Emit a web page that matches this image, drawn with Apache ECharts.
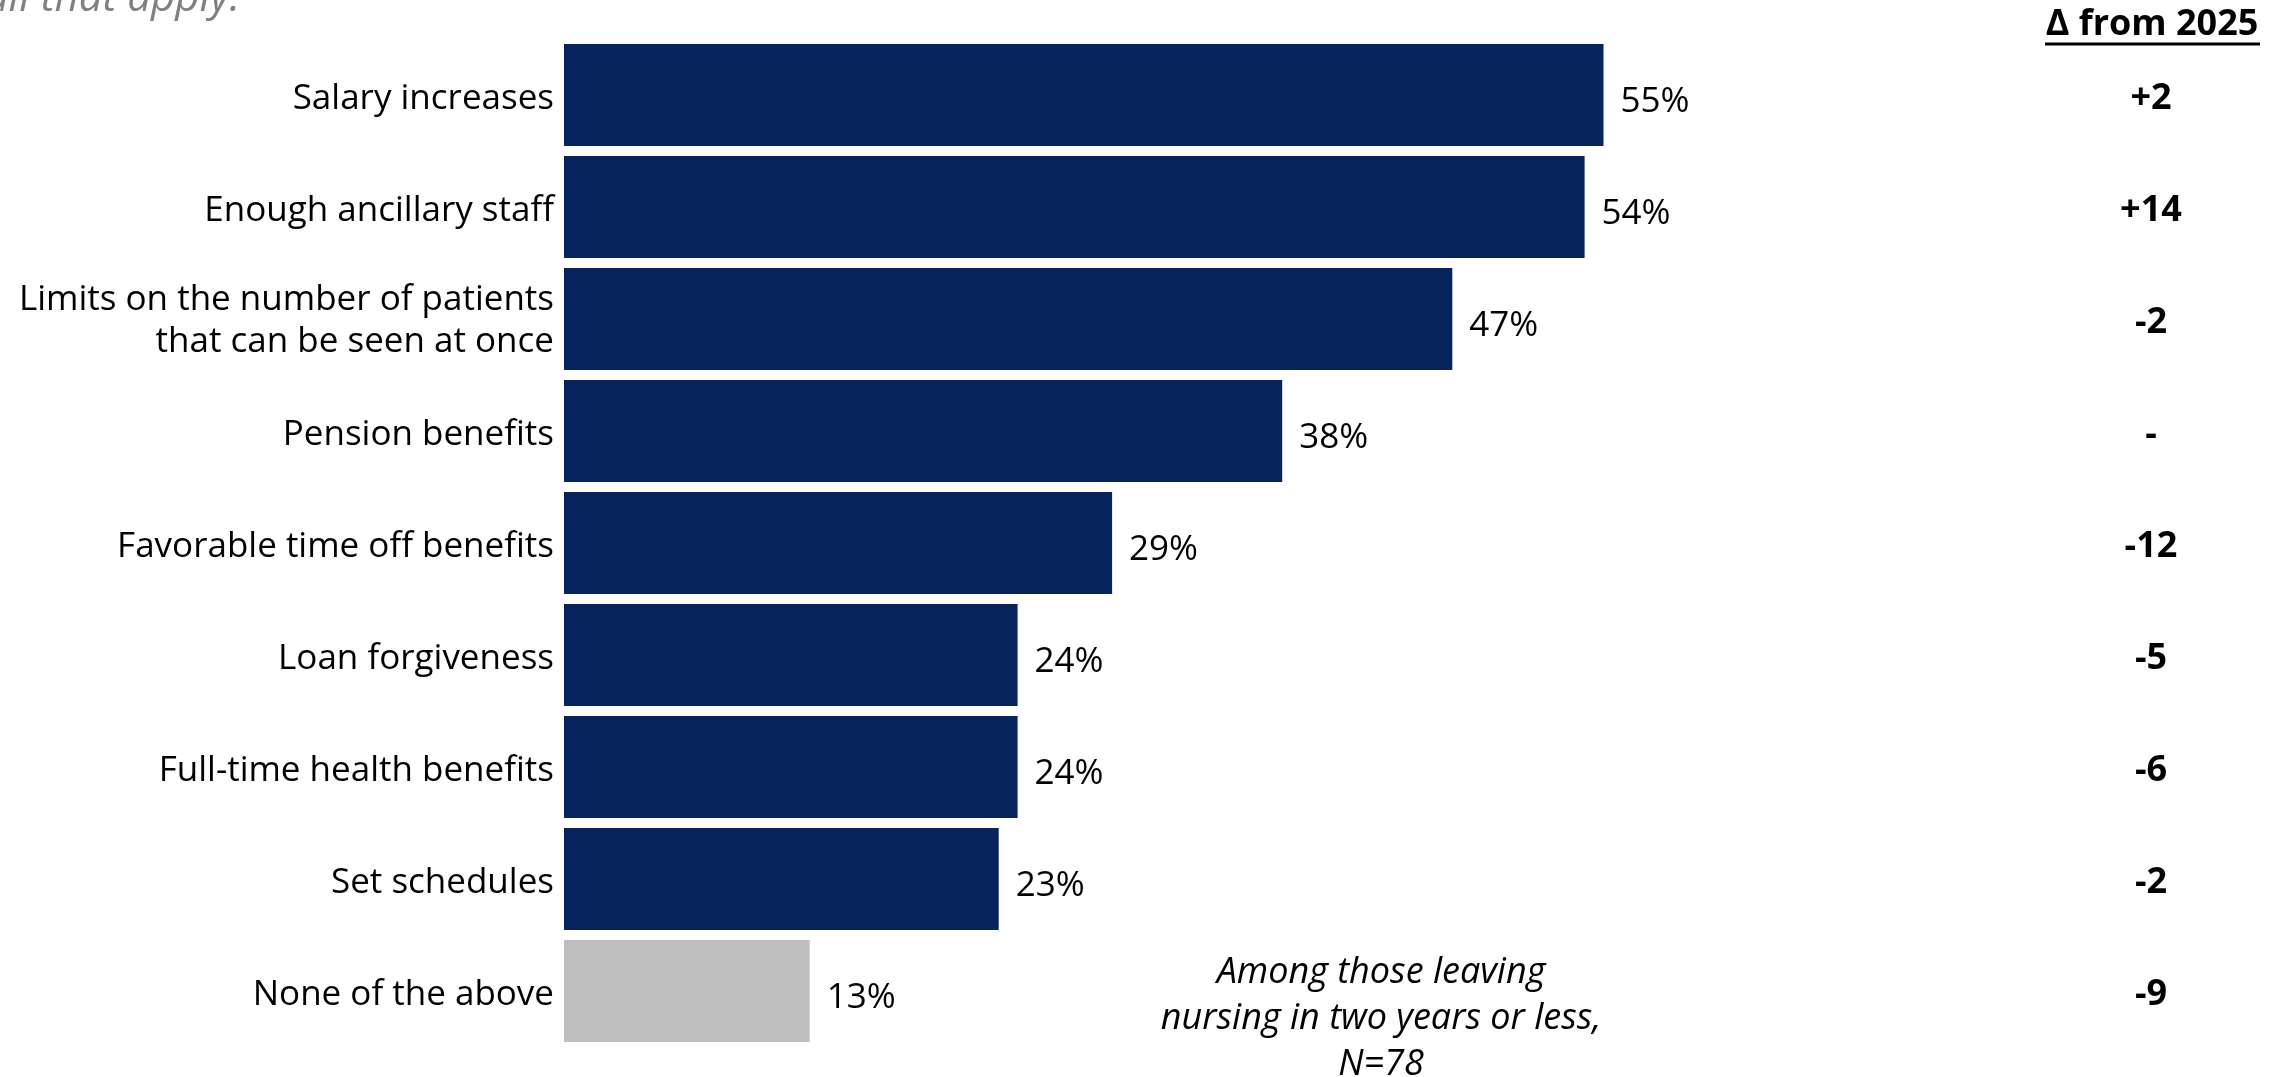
<!DOCTYPE html>
<html>
<head>
<meta charset="utf-8">
<script src="https://cdn.jsdelivr.net/npm/echarts@6/dist/echarts.min.js"></script>
<style>
  html, body { margin: 0; padding: 0; background: #ffffff; }
  #chart { width: 2279px; height: 1077px; }
</style>
</head>
<body>
<div id="chart"></div>
<script>
// Retention factors, share of respondents (%)
const categories = [
  'Salary increases',
  'Enough ancillary staff',
  'Limits on the number of patients\nthat can be seen at once',
  'Pension benefits',
  'Favorable time off benefits',
  'Loan forgiveness',
  'Full-time health benefits',
  'Set schedules',
  'None of the above'
];
const shares = [55, 54, 47, 38, 29, 24, 24, 23, 13];
// Change in points versus the previous survey
const changes = ['+2', '+14', '-2', '-', '-12', '-5', '-6', '-2', '-9'];
const changeTitle = '\u0394 from 2025';
const subtitleTail = 'all that apply.';
const baseNote = 'Among those leaving\nnursing in two years or less,\nN=78';

const FONT = '"Open Sans", "Noto Sans", sans-serif';
const NAVY = '#08245e';
const GREY = '#bfbfbf';

const chart = echarts.init(document.getElementById('chart'), null, { renderer: 'canvas' });

const barData = shares.map((v, i) => ({
  value: v,
  itemStyle: { color: categories[i] === 'None of the above' ? GREY : NAVY }
}));

// First line carries a little top padding so the text sits slightly below the bar centre
const lowered = (v) => v.split('\n').map((line, i) => (i === 0 ? '{first|' : '{rest|') + line + '}').join('\n');

chart.setOption({
  animation: false,
  backgroundColor: '#ffffff',
  grid: { left: 564, right: 581, top: 39, bottom: 30, containLabel: false },
  xAxis: { type: 'value', min: 0, max: 60, show: false },
  yAxis: [
    {
      type: 'category',
      data: categories,
      inverse: true,
      axisLine: { show: false },
      axisTick: { show: false },
      axisLabel: {
        margin: 10,
        align: 'right',
        formatter: lowered,
        rich: {
          first: { color: '#000000', fontFamily: FONT, fontSize: 35, lineHeight: 46, padding: [8, 0, 0, 0], align: 'right' },
          rest: { color: '#000000', fontFamily: FONT, fontSize: 35, lineHeight: 46, align: 'right' }
        }
      }
    },
    {
      type: 'category',
      data: changes,
      inverse: true,
      position: 'right',
      axisLine: { show: false },
      axisTick: { show: false },
      axisLabel: {
        margin: 453,
        align: 'center',
        formatter: lowered,
        rich: {
          first: { color: '#000000', fontFamily: FONT, fontSize: 36, fontWeight: 'bold', lineHeight: 46, padding: [8, 0, 0, 0] },
          rest: { color: '#000000', fontFamily: FONT, fontSize: 36, fontWeight: 'bold', lineHeight: 46 }
        }
      }
    }
  ],
  series: [{
    type: 'bar',
    yAxisIndex: 0,
    data: barData,
    barCategoryGap: '9%',
    label: {
      show: true,
      position: 'right',
      distance: 17,
      offset: [0, 7],
      formatter: '{c}%',
      color: '#000000',
      fontFamily: FONT,
      fontSize: 35
    }
  }],
  graphic: [
    {
      type: 'text',
      style: {
        x: 240, y: 20,
        text: subtitleTail,
        fill: '#808080',
        font: 'italic 42px ' + FONT,
        textAlign: 'right',
        textVerticalAlign: 'bottom'
      }
    },
    {
      type: 'text',
      style: {
        x: 2152, y: 25,
        text: changeTitle,
        fill: '#000000',
        font: 'bold 36px ' + FONT,
        textAlign: 'center',
        textVerticalAlign: 'middle'
      }
    },
    {
      type: 'line',
      shape: { x1: 2045, y1: 44, x2: 2260, y2: 44 },
      style: { stroke: '#000000', lineWidth: 3 }
    },
    {
      type: 'text',
      style: {
        x: 1381, y: 1019,
        text: baseNote,
        fill: '#000000',
        font: 'italic 36px ' + FONT,
        lineHeight: 46,
        textAlign: 'center',
        textVerticalAlign: 'middle'
      }
    }
  ]
});
</script>
</body>
</html>
